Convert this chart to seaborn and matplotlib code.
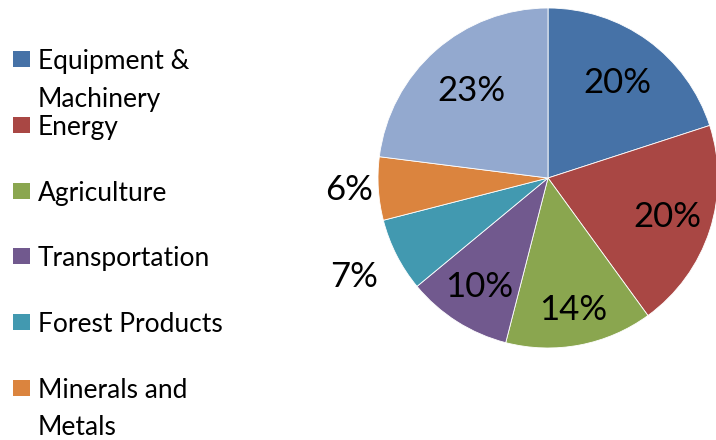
import numpy as np
import matplotlib.pyplot as plt
import seaborn as sns

categories = ["Equipment &\nMachinery", "Energy", "Agriculture", "Transportation",
              "Forest Products", "Minerals and\nMetals", "Other"]
shares = [20, 20, 14, 10, 7, 6, 23]
legend_labels = categories[:6]
colors = ["#4672A7", "#A94744", "#8AA64F", "#71598E", "#4299B0", "#DB843E", "#93A9CF"]
label_dist = [0.69, 0.74, 0.79, 0.76, 1.28, 1.17, 0.68]

sns.set_theme(style="white")
plt.rcParams["font.family"] = ["Lato", "DejaVu Sans"]

fig = plt.figure(figsize=(7.16, 4.40), dpi=100)
ax = fig.add_axes([378 / 716, 92 / 440, 340 / 716, 340 / 440])
wedges, _ = ax.pie(shares, colors=colors, startangle=90, counterclock=False,
                   radius=1, wedgeprops=dict(edgecolor="white", linewidth=0.6))
ax.set_xlim(-1, 1)
ax.set_ylim(-1, 1)
ax.set_aspect("equal")
ax.axis("off")

for w, s, d in zip(wedges, shares, label_dist):
    mid = np.deg2rad((w.theta1 + w.theta2) / 2)
    ax.text(d * np.cos(mid), d * np.sin(mid), f"{s}%", ha="center", va="center",
            fontsize=25, color="black", clip_on=False)

# legend drawn by hand so the marker sits on the first line of wrapped labels
y0, step, line_h = 69.5, 65.6, 37
for i, (lab, c) in enumerate(zip(legend_labels, colors)):
    yb = y0 + i * step
    fig.patches.append(plt.Rectangle((13 / 716, 1 - (yb - 2) / 440), 17 / 716, 16 / 440,
                                     transform=fig.transFigure, facecolor=c,
                                     edgecolor="none"))
    for j, line in enumerate(lab.split("\n")):
        fig.text(38 / 716, 1 - (yb + j * line_h) / 440, line, ha="left",
                 va="baseline", fontsize=19, color="black")

fig.savefig("out.png", dpi=100)
